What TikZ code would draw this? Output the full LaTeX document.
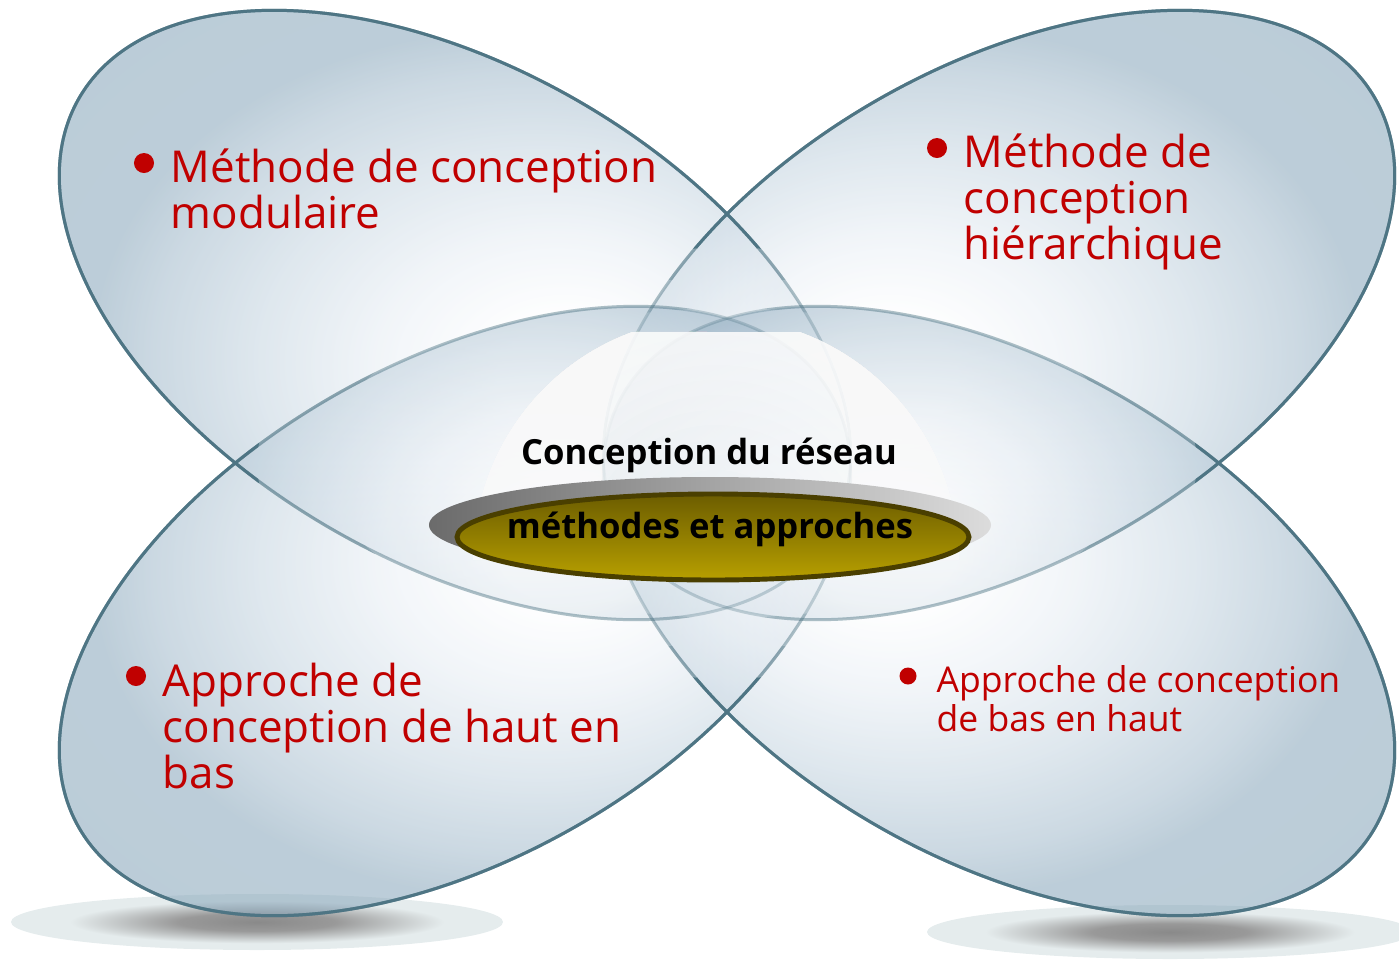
\documentclass[tikz,border=0pt]{standalone}
\usepackage{fontspec}
\setmainfont{Open Sans}

\definecolor{petalline}{HTML}{4E7584}
\definecolor{petalA}{HTML}{E8EEF4}
\definecolor{petalB}{HTML}{C8D7E2}
\definecolor{petalC}{HTML}{A9BFCF}
\definecolor{petalD}{HTML}{90ACBF}
\definecolor{petalE}{HTML}{88A5BA}
\definecolor{itemred}{HTML}{C00000}
\definecolor{floorpale}{HTML}{E5ECED}
\definecolor{goldtop}{HTML}{6C5D00}
\definecolor{goldbottom}{HTML}{B8A000}
\definecolor{goldrim}{HTML}{4A3F00}
\definecolor{dishdark}{HTML}{6B6B6B}
\definecolor{dishmid}{HTML}{A4A4A4}
\definecolor{dishlight}{HTML}{DCDCDC}

% petal glow, bright spot pulled towards the middle of the picture
\newcommand\petalglow[3]{%
  \pgfdeclareradialshading{#1}{\pgfpoint{#2}{#3}}{%
    color(0bp)=(white); color(4bp)=(white); color(10bp)=(petalA);
    color(16bp)=(petalB); color(21bp)=(petalC); color(24bp)=(petalD);
    color(50bp)=(petalE)}}
\petalglow{glowtl}{7bp}{-5bp}
\petalglow{glowtr}{-7bp}{-5bp}
\petalglow{glowbl}{7bp}{5bp}
\petalglow{glowbr}{-7bp}{5bp}

\pgfdeclareradialshading{floorshade}{\pgfpointorigin}{%
  color(0bp)=(black!46); color(8bp)=(black!40); color(19bp)=(floorpale); color(50bp)=(floorpale)}

\tikzset{
  petal/.style={fill opacity=0.6},
  petalrim/.style={draw=petalline, line width=0.85pt},
  bullet/.style={circle, fill=itemred, inner sep=0pt, minimum size=0.2cm},
  smallbullet/.style={bullet, minimum size=0.17cm},
  itemtext/.style={text=itemred, align=left, anchor=north west, inner sep=0pt,
    font=\fontsize{12.5}{13.1}\selectfont},
  smallitem/.style={itemtext, font=\fontsize{10.1}{9.95}\selectfont},
  hubtext/.style={anchor=base, inner sep=0pt, font=\bfseries\fontsize{9.85}{11}\selectfont},
  domeveil/.style={fill=white, fill opacity=0.13}
}

\begin{document}
\begin{tikzpicture}[x=0.01cm, y=-0.01cm]
  \useasboundingbox (0,0) rectangle (1399,960);

  % shadows on the floor
  \shade[shading=floorshade] (257,922) ellipse (246 and 28);
  \shade[shading=floorshade] (1170,932) ellipse (243 and 27);

  % four petals
  \foreach \nm/\cx/\cy/\ang in {tl/455/315/-30, tr/999/315/30, bl/455/611/30, br/999/611/-30}
    \shade[petal, shading=glow\nm, rotate around={\ang:(\cx,\cy)}] (\cx,\cy) ellipse (434 and 247);

  % outlines: faint in the middle, full strength further out
  \foreach \cx/\cy/\ang in {455/315/-30, 999/315/30, 455/611/30, 999/611/-30}
    \draw[petalrim, draw opacity=0.3, rotate around={\ang:(\cx,\cy)}] (\cx,\cy) ellipse (434 and 247);
  \foreach \s/\op in {0.72/0.22, 0.86/0.3, 1/1} {
    \begin{scope}[even odd rule]
      \clip (0,0) rectangle (1399,960) (727,463) ellipse ({470*\s} and {215*\s});
      \foreach \cx/\cy/\ang in {455/315/-30, 999/315/30, 455/611/30, 999/611/-30}
        \draw[petalrim, draw opacity=\op, rotate around={\ang:(\cx,\cy)}] (\cx,\cy) ellipse (434 and 247);
    \end{scope}
  }

  % glass dome, clearer towards the middle of its foot
  \begin{scope}
    \clip (800,332) arc[start angle=-69.78, end angle=0, radius=243] -- (473,560)
      arc[start angle=180, end angle=249.78, radius=243] -- cycle;
    \fill[domeveil] (470,330) rectangle (962,562);
    \fill[domeveil] (470,330) rectangle (962,562);
    \foreach \r in {30,45,...,240}
      \fill[domeveil, even odd rule] (470,330) rectangle (962,562) (716,560) circle (\r);
  \end{scope}

  % dish
  \shade[left color=dishdark, middle color=dishmid, right color=dishlight] (710,525) ellipse (281 and 48);
  \shade[top color=goldtop, bottom color=goldbottom, draw=goldrim, line width=1.4pt] (713,537) ellipse (256 and 43);

  \node[hubtext] (hub) at (709,464) {Conception du réseau};
  \node[hubtext] (dish) at (710,538) {méthodes et approches};

  \node[itemtext] (modul) at (170,148) {Méthode de conception\\modulaire};
  \node[itemtext] (hier) at (963,133) {Méthode de\\conception\\hiérarchique};
  \node[itemtext] (topdown) at (162,662) {Approche de\\conception de haut en\\bas};
  \node[smallitem] (bottomup) at (936,665) {Approche de conception\\de bas en haut};

  \node[bullet] (modulb) at (144,163) {};
  \node[bullet] (hierb) at (937,148) {};
  \node[bullet] (topdownb) at (136,676) {};
  \node[smallbullet] (bottomupb) at (908,676) {};
\end{tikzpicture}
\end{document}
